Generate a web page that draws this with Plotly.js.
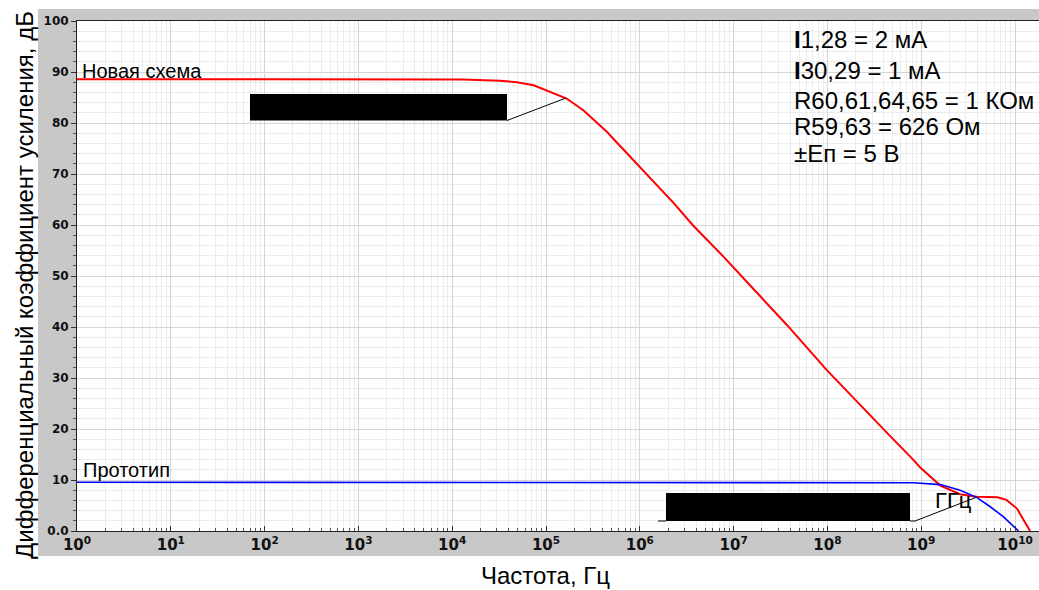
<!DOCTYPE html>
<html>
<head>
<meta charset="utf-8">
<script src="https://cdn.plot.ly/plotly-3.0.1.min.js"></script>
<style>html,body{margin:0;padding:0;background:#fff;}</style>
</head>
<body>
<div id="chart" style="width:1039px;height:590px;"></div>
<script>
// ---- data ----
const newFreq = [1, 1.3e4, 3.2e4, 4.9e4, 7.4e4, 1.1e5, 1.66e5, 2.5e5, 2.95e5, 3.8e5, 4.45e5, 5.1e5, 1.0e6, 2.3e6, 3.7e6, 7.8e6, 1.6e7, 3.7e7, 9.8e7, 1.9e8, 4.3e8, 8.3e8, 9.7e8, 1.6e9, 2.6e9, 3.9e9, 6.5e9, 8.1e9, 1.05e10, 1.23e10, 1.45e10];
const newGain = [88.6, 88.55, 88.3, 88.0, 87.4, 86.1, 84.8, 82.5, 81.3, 79.5, 78.3, 77.1, 71.4, 64.3, 59.9, 53.8, 47.6, 40.4, 31.6, 26.0, 19.3, 13.9, 12.5, 8.9, 7.2, 6.7, 6.6, 6.1, 4.4, 2.2, 0.0];
const protoFreq = [1, 3.2e8, 8.3e8, 1.6e9, 2.6e9, 3.9e9, 5.4e9, 7.5e9, 9.6e9, 1.09e10];
const protoGain = [9.55, 9.55, 9.47, 9.1, 8.0, 6.6, 4.8, 2.8, 1.0, 0.0];

const yTickVals = [0, 10, 20, 30, 40, 50, 60, 70, 80, 90, 100];
const yTickText = ['0.0', '10', '20', '30', '40', '50', '60', '70', '80', '90', '100'];
const xExponents = [0, 1, 2, 3, 4, 5, 6, 7, 8, 9, 10];

const seriesNames = ['Новая схема', 'Прототип'];
const paramLines = ['<b>I</b>1,28 = 2 мА', '<b>I</b>30,29 = 1 мА', 'R60,61,64,65 = 1 КОм', 'R59,63 = 626 Ом', '±Eп = 5 В'];
const xTitle = 'Частота, Гц';
const yTitle = 'Дифференциальный коэффициент усиления, дБ';

// ---- geometry helpers (pixel -> paper) ----
const W = 1039, H = 590, L = 77, R = 0, T = 21, B = 59;
const PW = W - L - R, PH = H - T - B;
const px = x => (x - L) / PW;
const py = y => (H - B - y) / PH;

const xTickVals = xExponents.map(e => Math.pow(10, e));
const xTickText = xExponents.map(e => '10<sup>' + e + '</sup>');
const xMinor = [];
for (let e = 0; e <= 10; e++) for (let m = 2; m <= 9; m++) xMinor.push(m * Math.pow(10, e));

const traces = [
  {x: newFreq, y: newGain, type: 'scatter', mode: 'lines', name: seriesNames[0],
   line: {color: '#ff0000', width: 2}},
  {x: protoFreq, y: protoGain, type: 'scatter', mode: 'lines', name: seriesNames[1],
   line: {color: '#0000ff', width: 1.6}}
];

const font = 'Liberation Sans, Arial, sans-serif';
const annotations = [
  {text: yTitle, textangle: -90, xref: 'paper', yref: 'paper', x: px(25), y: py(285),
   xanchor: 'center', yanchor: 'middle', showarrow: false, font: {family: font, size: 24, color: '#000'}},
  {text: xTitle, xref: 'paper', yref: 'paper', x: px(545), y: py(575),
   xanchor: 'center', yanchor: 'middle', showarrow: false, font: {family: font, size: 24, color: '#000'}},
  {text: seriesNames[0], xref: 'paper', yref: 'paper', x: px(80), y: py(70.5),
   xanchor: 'left', yanchor: 'middle', showarrow: false, font: {family: font, size: 20, color: '#000'}},
  {text: seriesNames[1], xref: 'paper', yref: 'paper', x: px(81), y: py(470),
   xanchor: 'left', yanchor: 'middle', showarrow: false, font: {family: font, size: 20, color: '#000'}},
  {text: 'ГГц', xref: 'paper', yref: 'paper', x: px(933), y: py(500),
   xanchor: 'left', yanchor: 'middle', showarrow: false, font: {family: font, size: 22, color: '#000'}}
];
const lineY = [40, 70, 100, 126.6, 153.3];
paramLines.forEach((t, i) => annotations.push({
  text: t, xref: 'paper', yref: 'paper', x: px(792), y: py(lineY[i]),
  xanchor: 'left', yanchor: 'middle', showarrow: false, font: {family: font, size: 24, color: '#000'}
}));

const shapes = [
  // white outer margins (paper background is the grey frame)
  {type: 'rect', xref: 'paper', yref: 'paper', x0: px(-5), x1: px(38), y0: py(600), y1: py(-5), fillcolor: '#ffffff', line: {width: 0}, layer: 'below'},
  {type: 'rect', xref: 'paper', yref: 'paper', x0: px(-5), x1: px(1045), y0: py(9), y1: py(-5), fillcolor: '#ffffff', line: {width: 0}, layer: 'below'},
  {type: 'rect', xref: 'paper', yref: 'paper', x0: px(-5), x1: px(1045), y0: py(600), y1: py(556), fillcolor: '#ffffff', line: {width: 0}, layer: 'below'},
  // redaction boxes and leader lines
  {type: 'rect', xref: 'paper', yref: 'paper', x0: px(250), x1: px(507), y0: py(120.5), y1: py(94), fillcolor: '#000', line: {width: 0}},
  {type: 'line', xref: 'paper', yref: 'paper', x0: px(507), x1: px(566), y0: py(120.5), y1: py(98), line: {color: '#000', width: 1}},
  {type: 'rect', xref: 'paper', yref: 'paper', x0: px(666), x1: px(910), y0: py(521), y1: py(493), fillcolor: '#000', line: {width: 0}},
  {type: 'line', xref: 'paper', yref: 'paper', x0: px(658), x1: px(666), y0: py(521), y1: py(521), line: {color: '#000', width: 1}},
  {type: 'path', xref: 'paper', yref: 'paper',
   path: 'M ' + px(910) + ' ' + py(521) + ' L ' + px(915) + ' ' + py(521) + ' L ' + px(977) + ' ' + py(497),
   line: {color: '#000', width: 1}}
];

const layout = {
  width: W, height: H, autosize: false,
  margin: {l: L, r: R, t: T, b: B, pad: 0},
  paper_bgcolor: '#c8c8c8', plot_bgcolor: '#ffffff',
  showlegend: false,
  xaxis: {
    type: 'log', range: [0, (W - L) / 93.8],
    tickmode: 'array', tickvals: xTickVals, ticktext: xTickText,
    tickfont: {family: 'DejaVu Sans', size: 15, weight: 'bold', color: '#111'},
    ticks: 'inside', ticklen: 5, tickcolor: '#333',
    showgrid: true, gridcolor: '#d6d6d6', gridwidth: 1,
    minor: {tickmode: 'array', tickvals: xMinor, ticks: 'inside', ticklen: 3, tickcolor: '#555', showgrid: true, gridcolor: '#ececec', gridwidth: 1},
    showline: true, linecolor: '#222', linewidth: 1, mirror: true,
    zeroline: false, fixedrange: true
  },
  yaxis: {
    range: [0, 100],
    tickmode: 'array', tickvals: yTickVals, ticktext: yTickText,
    tickfont: {family: 'DejaVu Sans', size: 12, weight: 'bold', color: '#111'},
    ticks: 'outside', ticklen: 5, tickcolor: '#333',
    showgrid: true, gridcolor: '#d6d6d6', gridwidth: 1,
    minor: {dtick: 2, ticks: 'outside', ticklen: 3, tickcolor: '#555', showgrid: true, gridcolor: '#ececec', gridwidth: 1},
    showline: true, linecolor: '#222', linewidth: 1,
    zeroline: false, fixedrange: true
  },
  annotations: annotations,
  shapes: shapes
};

Plotly.newPlot('chart', traces, layout, {displayModeBar: false, staticPlot: true});
</script>
</body>
</html>
